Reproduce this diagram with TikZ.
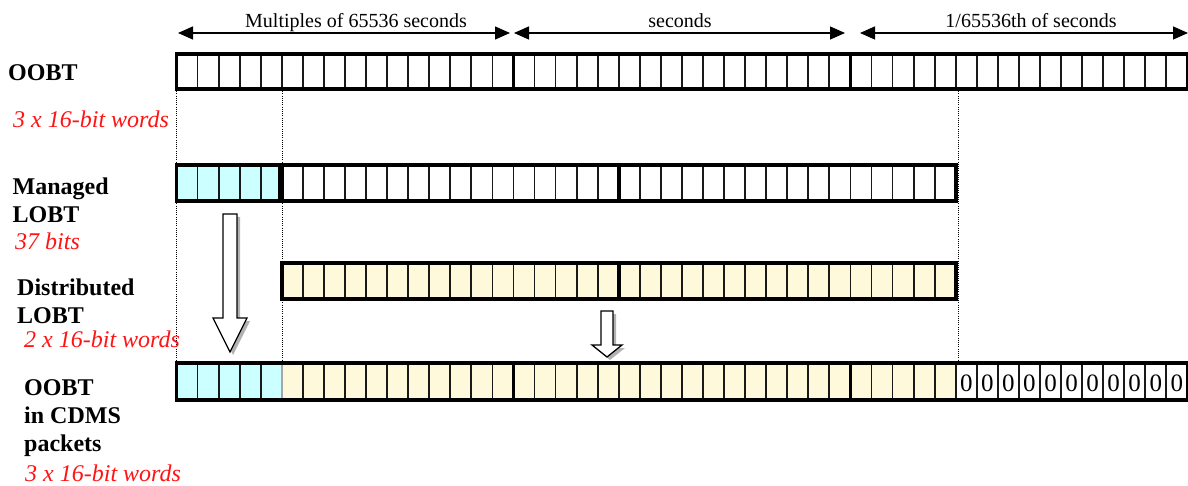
\documentclass[tikz,border=0pt]{standalone}
\usepackage{fontspec}
\setmainfont{Liberation Serif}
\usetikzlibrary{arrows.meta}
\definecolor{cellcyan}{RGB}{204,255,255}
\definecolor{cellyellow}{RGB}{255,249,220}
\definecolor{shadowgray}{RGB}{178,178,178}
\definecolor{labelred}{RGB}{255,20,20}
\begin{document}
\begin{tikzpicture}[x=1pt,y=-1pt,
  thinline/.style={line width=1.8pt, draw=black!90},
  thickline/.style={line width=3.6pt, draw=black},
  namelabel/.style={anchor=base west, inner sep=0pt, font=\fontsize{24}{28}\selectfont\bfseries},
  sizelabel/.style={anchor=base west, inner sep=0pt, text=labelred, font=\fontsize{24}{28}\selectfont\itshape},
  headlabel/.style={anchor=base, inner sep=0pt, font=\fontsize{20}{24}\selectfont},
  dimarrow/.style={line width=1.3pt, {Triangle[length=15pt,width=13pt]}-{Triangle[length=15pt,width=13pt]}},
  guide/.style={line width=1pt, dash pattern=on 1pt off 1.2pt},
  hollow/.style={draw=black, line width=1.3pt, fill=white, line join=miter},
  hollowshadow/.style={fill=shadowgray, draw=none},
  zero/.style={inner sep=0pt, font=\fontsize{25}{25}\selectfont}
]
\useasboundingbox (0,0) rectangle (1188,486);
\def\xo{176.5}\def\cw{21.06}

% ---- header dimension arrows ----
\coordinate (h1l) at (178,33);  \coordinate (h1r) at (510,33);
\coordinate (h2l) at (514,33);  \coordinate (h2r) at (845,33);
\coordinate (h3l) at (860,33);  \coordinate (h3r) at (1188,33);
\draw[dimarrow] (h1l) -- (h1r);
\draw[dimarrow] (h2l) -- (h2r);
\draw[dimarrow] (h3l) -- (h3r);
\node[headlabel] (t1) at (356,28) {Multiples of 65536 seconds};
\node[headlabel] (t2) at (680,28) {seconds};
\node[headlabel] (t3) at (1031,28) {1/65536th of seconds};

% ---- dotted guides ----
\coordinate (g1a) at (176.5,89); \coordinate (g1b) at (176.5,363);
\coordinate (g2a) at (282.3,89); \coordinate (g2b) at (282.3,363);
\coordinate (g3a) at (958.3,89); \coordinate (g3b) at (958.3,363);
\draw[guide] (g1a) -- (g1b);
\draw[guide] (g2a) -- (g2b);
\draw[guide] (g3a) -- (g3b);

% ---- row 1: OOBT (48 bits) ----
\fill[white] (\xo,54) rectangle ({\xo+48*\cw},89);
\foreach \i in {1,...,47} \draw[thinline] ({\xo+\i*\cw},54) -- ({\xo+\i*\cw},89);
\draw[thickline] (\xo,54) rectangle ({\xo+48*\cw},89);
\foreach \i in {16,32} \draw[thickline] ({\xo+\i*\cw},54) -- ({\xo+\i*\cw},89);

% ---- row 2: Managed LOBT (37 bits) ----
\fill[cellcyan] (\xo,165) rectangle ({\xo+5*\cw-2},201);
\foreach \i in {1,...,4} \draw[thinline] ({\xo+\i*\cw},165) -- ({\xo+\i*\cw},201);
\draw[thickline] (\xo,165) rectangle ({\xo+5*\cw-2},201);
\fill[white] ({\xo+5*\cw},165) rectangle ({\xo+37*\cw},201);
\foreach \i in {6,...,36} \draw[thinline] ({\xo+\i*\cw},165) -- ({\xo+\i*\cw},201);
\draw[thickline] ({\xo+5*\cw},165) rectangle ({\xo+37*\cw},201);
\draw[thickline] ({\xo+21*\cw},165) -- ({\xo+21*\cw},201);

% ---- row 3: Distributed LOBT (32 bits) ----
\fill[cellyellow] ({\xo+5*\cw},263) rectangle ({\xo+37*\cw},299);
\foreach \i in {6,...,36} \draw[thinline] ({\xo+\i*\cw},263) -- ({\xo+\i*\cw},299);
\draw[thickline] ({\xo+5*\cw},263) rectangle ({\xo+37*\cw},299);
\draw[thickline] ({\xo+21*\cw},263) -- ({\xo+21*\cw},299);

% ---- row 4: OOBT in CDMS packets (48 bits) ----
\fill[cellcyan] (\xo,363) rectangle ({\xo+5*\cw},400);
\fill[cellyellow] ({\xo+5*\cw},363) rectangle ({\xo+37*\cw},400);
\fill[white] ({\xo+37*\cw},363) rectangle ({\xo+48*\cw},400);
\foreach \i in {1,...,4,6,7,...,47} \draw[thinline] ({\xo+\i*\cw},363) -- ({\xo+\i*\cw},400);
\draw[line width=1.6pt, draw=black!35] ({\xo+5*\cw},363) -- ({\xo+5*\cw},400);
\draw[thickline] (\xo,363) rectangle ({\xo+48*\cw},400);
\foreach \i in {16,32} \draw[thickline] ({\xo+\i*\cw},363) -- ({\xo+\i*\cw},400);
\foreach \i in {37,...,47} \node[zero] (z\i) at ({\xo+(\i+0.5)*\cw},383) {0};

% ---- hollow block arrows ----
\fill[hollowshadow] (226,217) -- (240,217) -- (240,321) -- (250,321) -- (233,355) -- (216,321) -- (226,321) -- cycle;
\draw[hollow] (223,214) -- (237,214) -- (237,318) -- (247,318) -- (230,352) -- (213,318) -- (223,318) -- cycle;
\fill[hollowshadow] (604,314) -- (616,314) -- (616,348) -- (625,348) -- (610,360) -- (595,348) -- (604,348) -- cycle;
\draw[hollow] (601,311) -- (613,311) -- (613,345) -- (622,345) -- (607,357) -- (592,345) -- (601,345) -- cycle;

% ---- left labels ----
\node[namelabel] (l1) at (8,80.5) {OOBT};
\node[sizelabel] (s1) at (13,128) {3 x 16-bit words};
\node[namelabel] (l2a) at (12.5,194.3) {Managed};
\node[namelabel] (l2b) at (12.5,222.7) {LOBT};
\node[sizelabel] (s2) at (15,250) {37 bits};
\node[namelabel] (l3a) at (17,295) {Distributed};
\node[namelabel] (l3b) at (17,323) {LOBT};
\node[sizelabel] (s3) at (24,347) {2 x 16-bit words};
\node[namelabel] (l4a) at (24,395) {OOBT};
\node[namelabel] (l4b) at (24,423) {in CDMS};
\node[namelabel] (l4c) at (24,451) {packets};
\node[sizelabel] (s4) at (25,481.5) {3 x 16-bit words};
\end{tikzpicture}
\end{document}
